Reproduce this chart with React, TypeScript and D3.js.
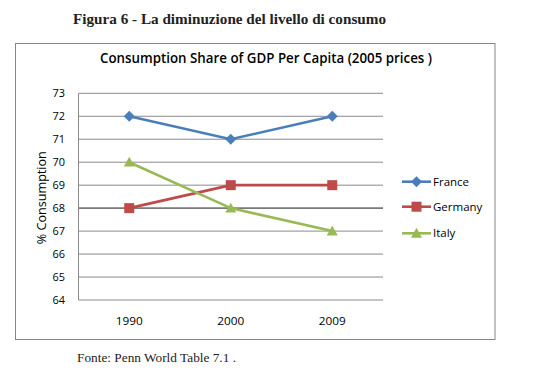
import React from "react";
import * as d3 from "d3";

const categories = ["1990", "2000", "2009"];
const france = [72, 71, 72];
const germany = [68, 69, 69];
const italy = [70, 68, 67];
const yTicks = [64, 65, 66, 67, 68, 69, 70, 71, 72, 73];

const series = [
  { name: "France", values: france, color: "#4A7EBB", marker: "diamond" },
  { name: "Germany", values: germany, color: "#BE4B48", marker: "square" },
  { name: "Italy", values: italy, color: "#98B954", marker: "triangle" },
];

function Marker({ type, x, y, color }: { type: string; x: number; y: number; color: string }) {
  if (type === "diamond") {
    const s = 5.5;
    return <path d={`M${x},${y - s}L${x + s},${y}L${x},${y + s}L${x - s},${y}Z`} fill={color} />;
  }
  if (type === "square") {
    const s = 5;
    return <rect x={x - s} y={y - s} width={2 * s} height={2 * s} fill={color} />;
  }
  const s = 5.5;
  return <path d={`M${x},${y - s}L${x + s},${y + s * 0.8}L${x - s},${y + s * 0.8}Z`} fill={color} />;
}

export default function App() {
  const W = 545, H = 378;
  const left = 78.5, right = 383, top = 93.3, bottom = 300;
  const x = d3.scalePoint<string>().domain(categories).range([left, right]).padding(0.5);
  const y = d3.scaleLinear().domain([64, 73]).range([bottom, top]);
  const line = d3
    .line<number>()
    .x((_, i) => x(categories[i]) as number)
    .y((d) => y(d));

  const legendY = [181.7, 206.7, 233.3];

  return (
    <svg width={W} height={H} style={{ position: "absolute", left: 0, top: 0, background: "#fff" }}>
      <text x={229.5} y={24} textAnchor="middle" fontFamily="Liberation Serif" fontWeight="bold" fontSize={15} fill="#222" textLength={313} lengthAdjust="spacingAndGlyphs">
        Figura 6 - La diminuzione del livello di consumo
      </text>
      <rect x={15.5} y={43.5} width={479.5} height={296} fill="#fff" stroke="#868686" strokeWidth={1} />
      <text x={266} y={63} textAnchor="middle" fontFamily="Open Sans" fontWeight={600} fontSize={14} fill="#000" textLength={332} lengthAdjust="spacingAndGlyphs">
        Consumption Share of GDP Per Capita (2005 prices )
      </text>
      {yTicks.map((t) => (
        <g key={t}>
          <line
            x1={left}
            x2={right}
            y1={y(t)}
            y2={y(t)}
            stroke={t === 68 ? "#7a7a7a" : "#8a8a8a"}
            strokeWidth={t === 68 ? 1.8 : 1}
          />
          <text x={65} y={y(t) + 4} textAnchor="end" fontFamily="Open Sans" fontSize={11.5} fill="#000" textLength={12.5} lengthAdjust="spacingAndGlyphs">
            {t}
          </text>
        </g>
      ))}
      <line x1={left} x2={left} y1={top} y2={bottom} stroke="#8a8a8a" strokeWidth={1} />
      {categories.map((c) => (
        <text key={c} x={x(c)} y={325} textAnchor="middle" fontFamily="Open Sans" fontSize={11.5} fill="#000" textLength={27} lengthAdjust="spacingAndGlyphs">
          {c}
        </text>
      ))}
      <text
        transform={`translate(45.5,${(top + bottom) / 2 + 1}) rotate(-90)`}
        textAnchor="middle"
        fontFamily="Open Sans"
        fontSize={12}
        fill="#000"
        textLength={93}
        lengthAdjust="spacingAndGlyphs"
      >
        % Consumption
      </text>
      {series.map((s) => (
        <g key={s.name}>
          <path d={line(s.values) || ""} fill="none" stroke={s.color} strokeWidth={2.6} />
          {s.values.map((v, i) => (
            <Marker key={i} type={s.marker} x={x(categories[i]) as number} y={y(v)} color={s.color} />
          ))}
        </g>
      ))}
      {series.map((s, i) => (
        <g key={s.name}>
          <line x1={402} x2={431} y1={legendY[i]} y2={legendY[i]} stroke={s.color} strokeWidth={2.6} />
          <Marker type={s.marker} x={416.5} y={legendY[i]} color={s.color} />
          <text x={433} y={legendY[i] + 4} fontFamily="Open Sans" fontSize={11.5} fill="#000">
            {s.name}
          </text>
        </g>
      ))}
      <text x={77} y={362} fontFamily="Liberation Serif" fontSize={13} fill="#222" textLength={159} lengthAdjust="spacingAndGlyphs">
        Fonte: Penn World Table 7.1 .
      </text>
    </svg>
  );
}
